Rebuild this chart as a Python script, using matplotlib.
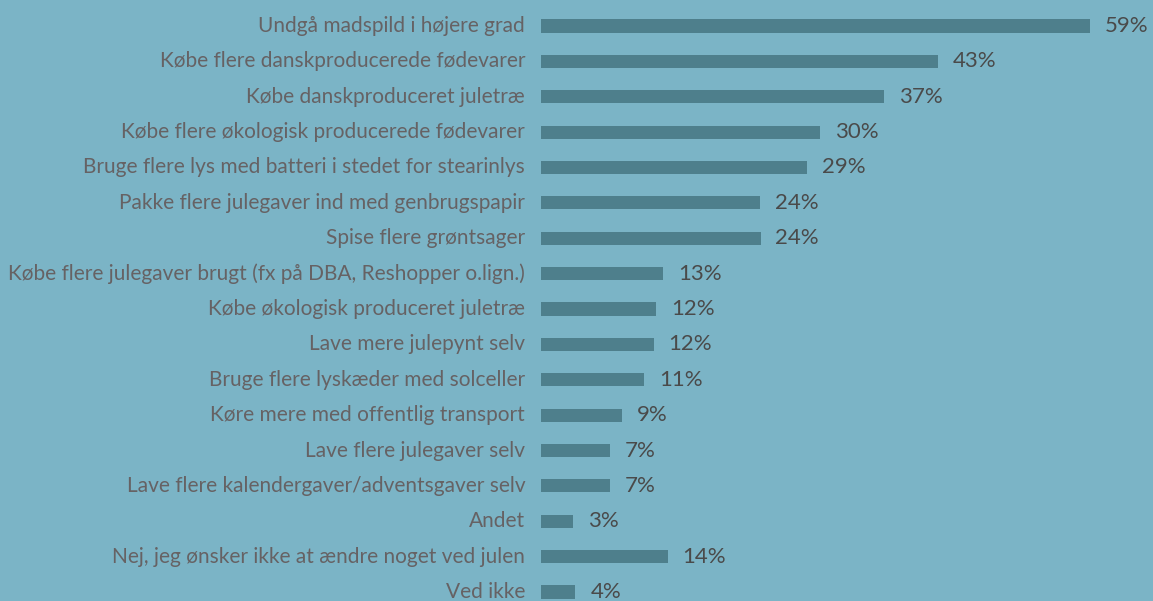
import matplotlib.pyplot as plt
import numpy as np

categories = [
    'Undgå madspild i højere grad',
    'Købe flere danskproducerede fødevarer',
    'Købe danskproduceret juletræ',
    'Købe flere økologisk producerede fødevarer',
    'Bruge flere lys med batteri i stedet for stearinlys',
    'Pakke flere julegaver ind med genbrugspapir',
    'Spise flere grøntsager',
    'Købe flere julegaver brugt (fx på DBA, Reshopper o.lign.)',
    'Købe økologisk produceret juletræ',
    'Lave mere julepynt selv',
    'Bruge flere lyskæder med solceller',
    'Køre mere med offentlig transport',
    'Lave flere julegaver selv',
    'Lave flere kalendergaver/adventsgaver selv',
    'Andet',
    'Nej, jeg ønsker ikke at ændre noget ved julen',
    'Ved ikke',
]
# bar lengths as measured, labels as printed
values = [59.0, 42.7, 36.9, 30.0, 28.6, 23.5, 23.6, 13.1, 12.4, 12.1, 11.1,
          8.7, 7.4, 7.4, 3.4, 13.6, 3.7]
labels = ['59%', '43%', '37%', '30%', '29%', '24%', '24%', '13%', '12%', '12%',
          '11%', '9%', '7%', '7%', '3%', '14%', '4%']

bg = '#7bb4c6'
bar_color = '#4e7f8c'

fig = plt.figure(figsize=(11.53, 6.01), dpi=100, facecolor=bg)
ax = fig.add_axes([541 / 1153, 0, 1 - 541 / 1153, 1])
ax.set_facecolor(bg)

y = np.arange(len(categories))
ax.barh(y, values, height=0.37, color=bar_color)

ax.set_xlim(0, 612 / 9.305)
ax.set_ylim(16 + 9 / 35.44, -26 / 35.44)

for yi, v, lab, c in zip(y, values, labels, categories):
    ax.text(v + 1.6, yi, lab, va='center', ha='left', fontsize=16,
            color='#4a4a4a', family='Lato')
    ax.text(-1.7, yi, c, va='center', ha='right', fontsize=15,
            color='#666264', family='Lato', clip_on=False)

ax.axis('off')

fig.savefig('out.png', dpi=100, facecolor=bg)
